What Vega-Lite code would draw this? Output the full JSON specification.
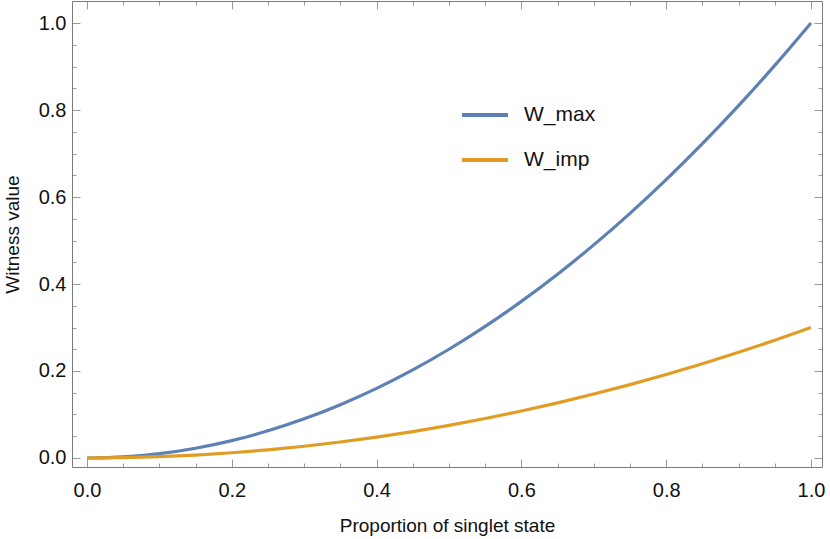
{
  "$schema": "https://vega.github.io/schema/vega-lite/v6.json",
  "width": 750,
  "height": 466,
  "autosize": {"type": "none"},
  "padding": {"left": 72, "top": 1, "right": 8, "bottom": 72},
  "background": "white",
  "config": {
    "view": {"stroke": null},
    "font": "Liberation Sans",
    "axis": {"grid": false, "domainColor": "#7a7a7a", "domainWidth": 1, "tickColor": "#9a9a9a", "labelFont": "Liberation Sans", "titleFont": "Liberation Sans", "labelFontSize": 20, "titleFontSize": 19, "titleFontWeight": "normal", "labelColor": "#111", "titleColor": "#111"}
  },
  "data": {"values": [
    {"p": 0.00, "series": "W_max", "w": 0.0},
    {"p": 0.05, "series": "W_max", "w": 0.0025},
    {"p": 0.10, "series": "W_max", "w": 0.01},
    {"p": 0.15, "series": "W_max", "w": 0.0225},
    {"p": 0.20, "series": "W_max", "w": 0.04},
    {"p": 0.25, "series": "W_max", "w": 0.0625},
    {"p": 0.30, "series": "W_max", "w": 0.09},
    {"p": 0.35, "series": "W_max", "w": 0.1225},
    {"p": 0.40, "series": "W_max", "w": 0.16},
    {"p": 0.45, "series": "W_max", "w": 0.2025},
    {"p": 0.50, "series": "W_max", "w": 0.25},
    {"p": 0.55, "series": "W_max", "w": 0.3025},
    {"p": 0.60, "series": "W_max", "w": 0.36},
    {"p": 0.65, "series": "W_max", "w": 0.4225},
    {"p": 0.70, "series": "W_max", "w": 0.49},
    {"p": 0.75, "series": "W_max", "w": 0.5625},
    {"p": 0.80, "series": "W_max", "w": 0.64},
    {"p": 0.85, "series": "W_max", "w": 0.7225},
    {"p": 0.90, "series": "W_max", "w": 0.81},
    {"p": 0.95, "series": "W_max", "w": 0.9025},
    {"p": 1.00, "series": "W_max", "w": 1.0},
    {"p": 0.00, "series": "W_imp", "w": 0.0},
    {"p": 0.05, "series": "W_imp", "w": 0.00075},
    {"p": 0.10, "series": "W_imp", "w": 0.003},
    {"p": 0.15, "series": "W_imp", "w": 0.00675},
    {"p": 0.20, "series": "W_imp", "w": 0.012},
    {"p": 0.25, "series": "W_imp", "w": 0.01875},
    {"p": 0.30, "series": "W_imp", "w": 0.027},
    {"p": 0.35, "series": "W_imp", "w": 0.03675},
    {"p": 0.40, "series": "W_imp", "w": 0.048},
    {"p": 0.45, "series": "W_imp", "w": 0.06075},
    {"p": 0.50, "series": "W_imp", "w": 0.075},
    {"p": 0.55, "series": "W_imp", "w": 0.09075},
    {"p": 0.60, "series": "W_imp", "w": 0.108},
    {"p": 0.65, "series": "W_imp", "w": 0.12675},
    {"p": 0.70, "series": "W_imp", "w": 0.147},
    {"p": 0.75, "series": "W_imp", "w": 0.16875},
    {"p": 0.80, "series": "W_imp", "w": 0.192},
    {"p": 0.85, "series": "W_imp", "w": 0.21675},
    {"p": 0.90, "series": "W_imp", "w": 0.243},
    {"p": 0.95, "series": "W_imp", "w": 0.27075},
    {"p": 1.00, "series": "W_imp", "w": 0.3}
  ]},
  "resolve": {"axis": {"x": "independent", "y": "independent"}},
  "layer": [
    {
      "mark": {"type": "line", "strokeWidth": 3.2, "interpolate": "monotone", "clip": true},
      "encoding": {
        "x": {"field": "p", "type": "quantitative",
          "scale": {"domain": [-0.0207, 1.0152], "nice": false, "zero": false},
          "axis": {"orient": "bottom", "title": "Proportion of singlet state", "titlePadding": 16,
            "values": [0,0.05,0.1,0.15,0.2,0.25,0.3,0.35,0.4,0.45,0.5,0.55,0.6,0.65,0.7,0.75,0.8,0.85,0.9,0.95,1],
            "tickSize": {"condition": {"test": "abs(datum.value*5 - round(datum.value*5)) < 0.001", "value": -8}, "value": -4},
            "labelPadding": 21,
            "labelExpr": "abs(datum.value*5 - round(datum.value*5)) < 0.001 ? format(datum.value, '.1f') : ''"}},
        "y": {"field": "w", "type": "quantitative",
          "scale": {"domain": [-0.0207, 1.0506], "nice": false, "zero": false},
          "axis": {"orient": "left", "title": "Witness value", "titlePadding": 16,
            "values": [0,0.05,0.1,0.15,0.2,0.25,0.3,0.35,0.4,0.45,0.5,0.55,0.6,0.65,0.7,0.75,0.8,0.85,0.9,0.95,1],
            "tickSize": {"condition": {"test": "abs(datum.value*5 - round(datum.value*5)) < 0.001", "value": -8}, "value": -4},
            "labelPadding": 14,
            "labelExpr": "abs(datum.value*5 - round(datum.value*5)) < 0.001 ? format(datum.value, '.1f') : ''"}},
        "color": {"field": "series", "type": "nominal",
          "scale": {"domain": ["W_max", "W_imp"], "range": ["#5E81B5", "#E19C24"]},
          "legend": {"title": null, "orient": "none", "legendX": 388, "legendY": 89, "symbolType": "stroke", "symbolSize": 2116, "symbolStrokeWidth": 4, "labelFontSize": 21, "labelFont": "Liberation Sans", "labelColor": "#111", "rowPadding": 10, "labelOffset": 14}}
      }
    },
    {
      "mark": {"type": "line", "opacity": 0},
      "encoding": {
        "x": {"field": "p", "type": "quantitative",
          "axis": {"orient": "top", "title": null, "labels": false,
            "values": [0,0.05,0.1,0.15,0.2,0.25,0.3,0.35,0.4,0.45,0.5,0.55,0.6,0.65,0.7,0.75,0.8,0.85,0.9,0.95,1],
            "tickSize": {"condition": {"test": "abs(datum.value*5 - round(datum.value*5)) < 0.001", "value": -8}, "value": -4}}},
        "y": {"field": "w", "type": "quantitative",
          "axis": {"orient": "right", "title": null, "labels": false,
            "values": [0,0.05,0.1,0.15,0.2,0.25,0.3,0.35,0.4,0.45,0.5,0.55,0.6,0.65,0.7,0.75,0.8,0.85,0.9,0.95,1],
            "tickSize": {"condition": {"test": "abs(datum.value*5 - round(datum.value*5)) < 0.001", "value": -8}, "value": -4}}}
      }
    }
  ]
}
